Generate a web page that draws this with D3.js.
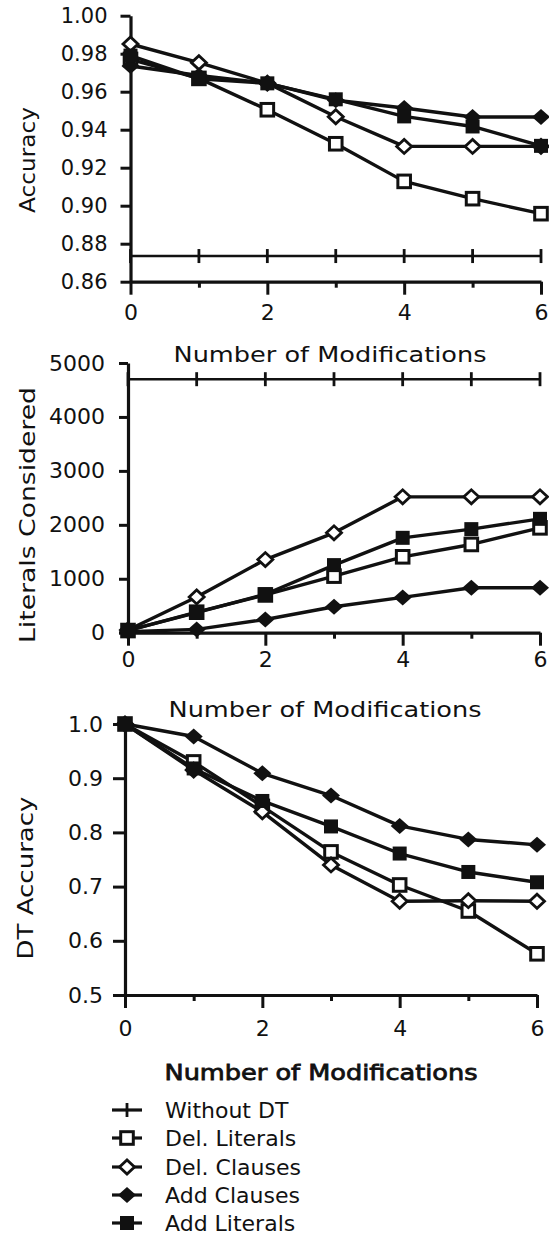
<!DOCTYPE html>
<html><head><meta charset="utf-8">
<script src="https://cdn.jsdelivr.net/npm/d3@7/dist/d3.min.js"></script>
<style>
body{margin:0;background:#fff}
text{font-family:"DejaVu Sans",sans-serif;fill:#111}
</style>
</head><body>
<svg id="c" width="549" height="1239"></svg>
<script>
// ---- data ----
const modifications = [0, 1, 2, 3, 4, 5, 6];
const seriesNames = ["Without DT", "Del. Literals", "Del. Clauses", "Add Clauses", "Add Literals"];

// Panel 1: Accuracy
const accWithoutDT   = [0.8735, 0.8735, 0.8735, 0.8735, 0.8735, 0.8735, 0.8735];
const accDelLiterals = [0.977, 0.967, 0.9505, 0.9326, 0.9128, 0.9037, 0.8958];
const accDelClauses  = [0.9851, 0.9753, 0.9645, 0.9468, 0.9312, 0.9312, 0.9312];
const accAddClauses  = [0.9735, 0.9685, 0.9645, 0.9555, 0.9514, 0.9467, 0.9467];
const accAddLiterals = [0.979, 0.9668, 0.9644, 0.956, 0.947, 0.9417, 0.9315];
const accTicks = [0.86, 0.88, 0.90, 0.92, 0.94, 0.96, 0.98, 1.00];

// Panel 2: Literals Considered
const litWithoutDT   = [4700, 4700, 4700, 4700, 4700, 4700, 4700];
const litDelLiterals = [40, 380, 700, 1049, 1407, 1636, 1944];
const litDelClauses  = [50, 663, 1356, 1852, 2519, 2519, 2519];
const litAddClauses  = [20, 61, 245, 481, 654, 833, 833];
const litAddLiterals = [45, 374, 712, 1253, 1759, 1920, 2111];
const litTicks = [0, 1000, 2000, 3000, 4000, 5000];

// Panel 3: DT Accuracy
const dtDelLiterals = [1.0, 0.930, 0.848, 0.764, 0.703, 0.655, 0.576];
const dtDelClauses  = [1.0, 0.915, 0.838, 0.740, 0.673, 0.674, 0.673];
const dtAddClauses  = [1.0, 0.977, 0.909, 0.868, 0.812, 0.787, 0.777];
const dtAddLiterals = [1.0, 0.918, 0.858, 0.811, 0.761, 0.727, 0.708];
const dtTicks = [0.5, 0.6, 0.7, 0.8, 0.9, 1.0];

const xTickLabels = [0, 2, 4, 6];
const xTitle = "Number of Modifications";

// ---- drawing ----
const svg = d3.select("#c");
const INK = "#111";
const markerTypes = ["plus", "openSquare", "openDiamond", "filledDiamond", "filledSquare"];

function drawMarker(g, type, cx, cy) {
  if (type === "plus") {
    g.append("line").attr("x1", cx).attr("x2", cx).attr("y1", cy - 7).attr("y2", cy + 7)
      .attr("stroke", INK).attr("stroke-width", 2.8);
  } else if (type === "openSquare") {
    g.append("rect").attr("x", cx - 6.3).attr("y", cy - 6.3).attr("width", 12.6).attr("height", 12.6)
      .attr("fill", "#fff").attr("stroke", INK).attr("stroke-width", 3);
  } else if (type === "filledSquare") {
    g.append("rect").attr("x", cx - 7).attr("y", cy - 7).attr("width", 14).attr("height", 14)
      .attr("fill", INK);
  } else if (type === "openDiamond") {
    g.append("path").attr("d", `M${cx-7.5},${cy}L${cx},${cy-7}L${cx+7.5},${cy}L${cx},${cy+7}Z`)
      .attr("fill", "#fff").attr("stroke", INK).attr("stroke-width", 2.8);
  } else if (type === "filledDiamond") {
    g.append("path").attr("d", `M${cx-9},${cy}L${cx},${cy-8}L${cx+9},${cy}L${cx},${cy+8}Z`)
      .attr("fill", INK);
  }
}

const panels = [
  { xr: [130.5, 541], yr: [281.7, 15.7], domain: [0.86, 1.0], ticks: accTicks, fmt: ".2f",
    tickSize: 10, pad: 13, fs: 21, labelY: 23,
    series: [accWithoutDT, accDelLiterals, accDelClauses, accAddClauses, accAddLiterals],
    yTitle: "Accuracy", yTitlePos: [35, 160], yTitleLen: 106,
    xTitlePos: [330, 362], xTitleBold: false },
  { xr: [128, 540], yr: [632.7, 363], domain: [0, 5000], ticks: litTicks, fmt: "d",
    tickSize: 9, pad: 14, fs: 22, labelY: 19,
    series: [litWithoutDT, litDelLiterals, litDelClauses, litAddClauses, litAddLiterals],
    yTitle: "Literals Considered", yTitlePos: [35, 515], yTitleLen: 256,
    xTitlePos: [325, 717], xTitleBold: false },
  { xr: [125, 537], yr: [995, 724], domain: [0.5, 1.0], ticks: dtTicks, fmt: ".1f",
    tickSize: 12, pad: 10, fs: 22, labelY: 25,
    series: [null, dtDelLiterals, dtDelClauses, dtAddClauses, dtAddLiterals],
    yTitle: "DT Accuracy", yTitlePos: [33, 878], yTitleLen: 163,
    xTitlePos: [321, 1080], xTitleBold: true }
];

panels.forEach(p => {
  const x = d3.scaleLinear().domain([0, 6]).range(p.xr);
  const y = d3.scaleLinear().domain(p.domain).range(p.yr);

  // y axis
  const ya = svg.append("g").attr("transform", `translate(${p.xr[0]},0)`)
    .call(d3.axisLeft(y).tickValues(p.ticks).tickFormat(d3.format(p.fmt))
      .tickSize(p.tickSize).tickPadding(p.pad).tickSizeOuter(0));
  ya.select(".domain").attr("stroke", INK).attr("stroke-width", 3.2);
  ya.selectAll(".tick line").attr("stroke", INK).attr("stroke-width", 3);
  ya.selectAll(".tick text").attr("font-size", p.fs).attr("font-family", "DejaVu Sans").attr("fill", INK);

  // x axis
  const xa = svg.append("g").attr("transform", `translate(0,${p.yr[0]})`)
    .call(d3.axisBottom(x).tickValues(modifications)
      .tickFormat(d => xTickLabels.includes(d) ? d : "").tickSizeOuter(0));
  xa.select(".domain").attr("stroke", INK).attr("stroke-width", 3.2);
  xa.selectAll(".tick line").attr("stroke", INK).attr("stroke-width", 3)
    .attr("y2", d => d % 2 === 0 ? 13 : 6);
  xa.selectAll(".tick text").attr("font-size", 22).attr("font-family", "DejaVu Sans")
    .attr("fill", INK).attr("y", p.labelY);

  // y title
  svg.append("text").attr("transform", `translate(${p.yTitlePos[0]},${p.yTitlePos[1]}) rotate(-90)`)
    .attr("text-anchor", "middle").attr("font-size", 22)
    .attr("textLength", p.yTitleLen).attr("lengthAdjust", "spacingAndGlyphs")
    .text(p.yTitle);

  // x title
  const xt = svg.append("text").attr("x", p.xTitlePos[0]).attr("y", p.xTitlePos[1])
    .attr("text-anchor", "middle").attr("font-size", 22)
    .attr("textLength", 313).attr("lengthAdjust", "spacingAndGlyphs")
    .text(xTitle);
  if (p.xTitleBold) xt.attr("stroke", INK).attr("stroke-width", 0.8);

  // series
  const line = d3.line().x((d, i) => x(modifications[i])).y(d => y(d));
  const g = svg.append("g");
  p.series.forEach((s, k) => {
    if (!s) return;
    g.append("path").datum(s).attr("d", line).attr("fill", "none")
      .attr("stroke", INK).attr("stroke-width", k === 0 ? 2.6 : 3.4).attr("stroke-linejoin", "round");
  });
  p.series.forEach((s, k) => {
    if (!s) return;
    s.forEach((v, i) => drawMarker(g, markerTypes[k], x(modifications[i]), y(v)));
  });
});

// legend
const legendRows = [1110, 1138, 1167, 1195, 1223];
const lg = svg.append("g");
seriesNames.forEach((name, k) => {
  const cy = legendRows[k];
  lg.append("line").attr("x1", 112).attr("x2", 142).attr("y1", cy).attr("y2", cy)
    .attr("stroke", INK).attr("stroke-width", 3.2);
  drawMarker(lg, markerTypes[k], 127, cy);
  lg.append("text").attr("x", 165).attr("y", cy).attr("dy", "0.36em")
    .attr("font-size", 22).text(name);
});
</script>
</body></html>
